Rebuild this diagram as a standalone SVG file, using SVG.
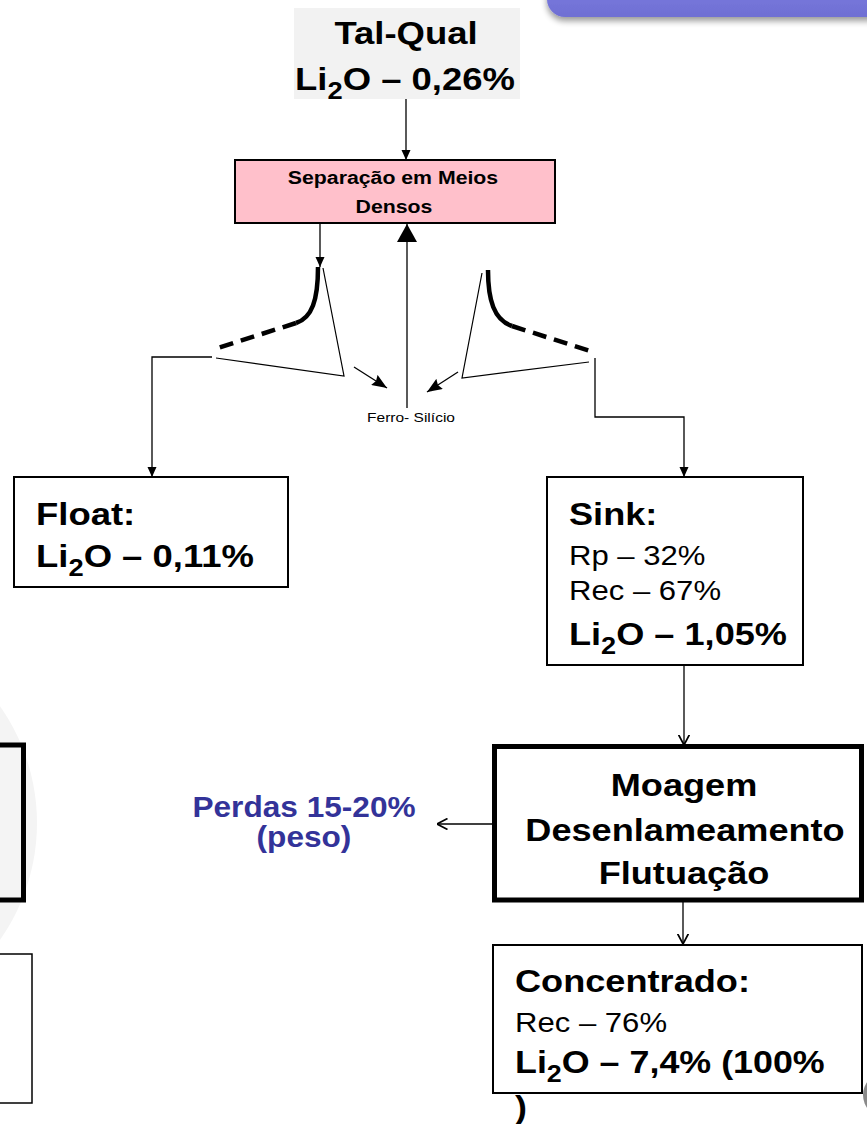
<svg xmlns="http://www.w3.org/2000/svg" width="867" height="1124" viewBox="0 0 867 1124">
  <defs>
    <style>
      .b { font-family: "Liberation Sans", Arial, sans-serif; font-weight: bold; fill: #000; }
      .r { font-family: "Liberation Sans", Arial, sans-serif; font-weight: normal; fill: #000; }
      .blue { fill: #333399; }
      .wire { fill: none; stroke: #000; stroke-width: 1.3; }
      .thin { fill: none; stroke: #000; stroke-width: 1.2; }
      .box { fill: #fff; stroke: #000; stroke-width: 2; }
      .heavy { fill: none; stroke: #000; stroke-width: 5; stroke-linecap: butt; }
    </style>
    <linearGradient id="bannerFill" x1="0" y1="0" x2="0" y2="1">
      <stop offset="0" stop-color="#8484e8"/>
      <stop offset="1" stop-color="#6f6fd3"/>
    </linearGradient>
    <filter id="bannerShadow" x="-10%" y="-50%" width="120%" height="250%">
      <feGaussianBlur in="SourceAlpha" stdDeviation="3"/>
      <feOffset dy="4"/>
      <feComponentTransfer><feFuncA type="linear" slope="0.4"/></feComponentTransfer>
      <feMerge><feMergeNode/><feMergeNode in="SourceGraphic"/></feMerge>
    </filter>
    <marker id="headS" markerUnits="userSpaceOnUse" viewBox="0 0 10 10" markerWidth="10" markerHeight="10" refX="10" refY="5" orient="auto">
      <path d="M0,0.5 L10,5 L0,9.5 Z" fill="#000"/>
    </marker>
    <marker id="headL" markerUnits="userSpaceOnUse" viewBox="0 0 18 20" markerWidth="18" markerHeight="20" refX="18" refY="10" orient="auto">
      <path d="M0,0 L18,10 L0,20 Z" fill="#000"/>
    </marker>
    <marker id="headM" markerUnits="userSpaceOnUse" viewBox="0 0 15 12" markerWidth="15" markerHeight="12" refX="15" refY="6" orient="auto">
      <path d="M0,0 L15,6 L0,12 L2,6 Z" fill="#000"/>
    </marker>
    <marker id="headV" markerUnits="userSpaceOnUse" viewBox="0 0 11 12" markerWidth="11" markerHeight="12" refX="10.5" refY="6" orient="auto">
      <path d="M0,0.5 L10.5,6 L0,11.5" fill="none" stroke="#000" stroke-width="1.7"/>
    </marker>
  </defs>

  <rect width="867" height="1124" fill="#fff"/>

  <!-- slide decoration: banner at top right, faint disc and clipped frames at left, button at bottom right -->
  <g id="decor">
    <rect x="547" y="-40" width="340" height="57" rx="18" fill="url(#bannerFill)" filter="url(#bannerShadow)"/>
    <circle cx="-166" cy="823" r="203" fill="#f4f4f4"/>
    <rect x="-10" y="745" width="33.5" height="155" fill="none" stroke="#000" stroke-width="5"/>
    <rect x="-10" y="954" width="42" height="149" fill="#fff" stroke="#000" stroke-width="1.5"/>
    <circle cx="885" cy="1095" r="22" fill="#8a8a8a"/>
  </g>

  <!-- feed -->
  <g id="tal-qual">
    <rect x="294" y="8" width="226" height="91" fill="#f2f2f2"/>
    <text class="b" font-size="32" text-anchor="middle" transform="translate(406,44) scale(1.14,1)">Tal-Qual</text>
    <text class="b" font-size="32" text-anchor="middle" transform="translate(405,90) scale(1.14,1)">Li<tspan font-size="24" dy="9">2</tspan><tspan dy="-9">O – 0,26%</tspan></text>
  </g>

  <!-- dense medium separation -->
  <g id="dms">
    <rect x="235" y="160" width="320" height="63" fill="#ffc0cb" stroke="#000" stroke-width="2"/>
    <text class="b" font-size="18.5" text-anchor="middle" transform="translate(393,184) scale(1.15,1)">Separação em Meios</text>
    <text class="b" font-size="18.5" text-anchor="middle" transform="translate(394,213) scale(1.15,1)">Densos</text>
  </g>

  <!-- left cyclone (float side) -->
  <g id="cyclone-left">
    <path class="thin" d="M323,268 L344,376 L216,358"/>
    <path d="M318,267 C318,300 312,318 296,323" fill="none" stroke="#000" stroke-width="4.5"/>
    <path d="M296,323 L215,349" fill="none" stroke="#000" stroke-width="4.5" stroke-dasharray="14,8"/>
  </g>

  <!-- right cyclone (sink side) -->
  <g id="cyclone-right">
    <path class="thin" d="M482,273 L462,378 L589,362"/>
    <path d="M488,270 C488,300 494,320 512,326" fill="none" stroke="#000" stroke-width="4.5"/>
    <path d="M512,326 L590,351" fill="none" stroke="#000" stroke-width="4.5" stroke-dasharray="14,8"/>
  </g>

  <g id="ferro-silicio">
    <text class="r" font-size="13.5" text-anchor="middle" transform="translate(411,422) scale(1.15,1)">Ferro- Silício</text>
  </g>

  <g id="float">
    <rect class="box" x="14" y="477" width="274" height="110"/>
    <text class="b" font-size="32" transform="translate(36,525) scale(1.14,1)">Float:</text>
    <text class="b" font-size="32" transform="translate(36,567) scale(1.14,1)">Li<tspan font-size="24" dy="9">2</tspan><tspan dy="-9">O – 0,11%</tspan></text>
  </g>

  <g id="sink">
    <rect class="box" x="547" y="477" width="256" height="188"/>
    <text class="b" font-size="32" transform="translate(569,525) scale(1.13,1)">Sink:</text>
    <text class="r" font-size="28" transform="translate(569,565) scale(1.11,1)">Rp – 32%</text>
    <text class="r" font-size="28" transform="translate(569,600) scale(1.11,1)">Rec – 67%</text>
    <text class="b" font-size="32" transform="translate(569,645) scale(1.13,1)">Li<tspan font-size="24" dy="9">2</tspan><tspan dy="-9">O – 1,05%</tspan></text>
  </g>

  <g id="beneficiation">
    <rect x="494.5" y="746.5" width="367" height="153.5" fill="#fff" stroke="#000" stroke-width="5"/>
    <text class="b" font-size="32" text-anchor="middle" transform="translate(684,796) scale(1.13,1)">Moagem</text>
    <text class="b" font-size="32" text-anchor="middle" transform="translate(685,841) scale(1.13,1)">Desenlameamento</text>
    <text class="b" font-size="32" text-anchor="middle" transform="translate(684,884) scale(1.13,1)">Flutuação</text>
  </g>

  <g id="losses">
    <text class="b blue" font-size="29" text-anchor="middle" transform="translate(304,817) scale(1.09,1)">Perdas 15-20%</text>
    <text class="b blue" font-size="29" text-anchor="middle" transform="translate(304,847) scale(1.09,1)">(peso)</text>
  </g>

  <g id="concentrate">
    <rect class="box" x="493" y="945" width="369" height="148"/>
    <text class="b" font-size="32" transform="translate(515,992) scale(1.13,1)">Concentrado:</text>
    <text class="r" font-size="28" transform="translate(515,1032) scale(1.11,1)">Rec – 76%</text>
    <text class="b" font-size="32" transform="translate(515,1073) scale(1.12,1)">Li<tspan font-size="24" dy="9">2</tspan><tspan dy="-9">O – 7,4% (100%</tspan></text>
    <text class="b" font-size="32" transform="translate(515,1118) scale(1.12,1)">)</text>
  </g>

  <!-- connectors -->
  <g id="connectors">
    <path class="wire" d="M406,99 V160" marker-end="url(#headS)"/>
    <path class="wire" d="M320,223 V267" marker-end="url(#headS)"/>
    <path class="wire" d="M407,408 V224" marker-end="url(#headL)"/>
    <path class="wire" d="M212,357 H152 V477" marker-end="url(#headS)"/>
    <path class="wire" d="M595,358 V417 H684 V477" marker-end="url(#headS)"/>
    <path class="wire" d="M354,367 L387,388" marker-end="url(#headM)"/>
    <path class="wire" d="M458,372 L427,392" marker-end="url(#headM)"/>
    <path class="wire" d="M684,665 V745" marker-end="url(#headV)"/>
    <path class="wire" d="M493,824 H437" marker-end="url(#headV)"/>
    <path class="wire" d="M683,902 V944" marker-end="url(#headV)"/>
  </g>
</svg>
